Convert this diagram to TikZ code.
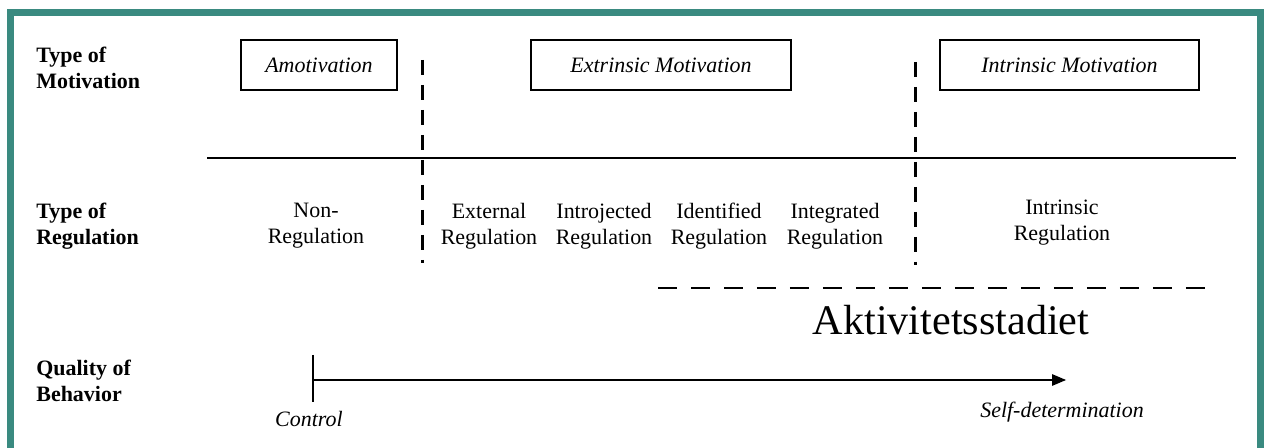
\documentclass[tikz,border=0pt]{standalone}
\usepackage{fontspec}
\setmainfont{Liberation Serif}
\usetikzlibrary{arrows,shapes,calc}

\definecolor{frameteal}{RGB}{58,138,128}

\tikzset{
  motbox/.style={rectangle, draw, line width=0.8pt, minimum height=1cm, font=\fontsize{12.5}{14.7}\selectfont\itshape},
  rowlab/.style={anchor=west, align=left, inner sep=0pt, font=\fontsize{12.5}{14.7}\selectfont\bfseries},
  reglab/.style={align=center, font=\fontsize{12.5}{14.7}\selectfont},
  endlab/.style={font=\fontsize{12.5}{14.7}\selectfont\itshape},
  divider/.style={line width=1.7pt, dash pattern=on 0.3cm off 0.2cm},
}

\begin{document}
\begin{tikzpicture}[x=0.02cm, y=-0.02cm]
		\useasboundingbox (0,0) rectangle (1266,448);
		\draw[frameteal, line width=0.14cm] (10.5,448) -- (10.5,12.5) -- (1260.5,12.5) -- (1260.5,448);

		\path (36, 68) node[rowlab] (typemot) {Type of\\Motivation}
		(36, 226) node[rowlab] (typereg) {Type of\\Regulation}
		(36, 381) node[rowlab] (quality) {Quality of\\Behavior}
		(319, 65) node[motbox, minimum width=3.12cm] (amot) {Amotivation}
		(661, 65) node[motbox, minimum width=5.2cm] (extr) {Extrinsic Motivation}
		(1069.5, 65) node[motbox, minimum width=5.18cm] (intr) {Intrinsic Motivation}
		(316, 226) node[reglab] (nonreg) {Non-\\Regulation}
		(489, 226) node[reglab] (external) {External\\Regulation}
		(604, 226) node[reglab] (introj) {Introjected\\Regulation}
		(719, 226) node[reglab] (ident) {Identified\\Regulation}
		(835, 226) node[reglab] (integ) {Integrated\\Regulation}
		(1062, 223) node[reglab] (intrreg) {Intrinsic\\Regulation}
		(951, 320) node[font=\fontsize{24}{28}\selectfont] (aktiv) {Aktivitetsstadiet}
		(309, 419) node[endlab] (control) {Control}
		(1062, 412) node[endlab] (selfdet) {Self-determination};

		\coordinate (lineL) at (207, 158);
		\coordinate (lineR) at (1236, 158);
		\coordinate (divAtop) at (422, 60);
		\coordinate (divAbot) at (422, 263);
		\coordinate (divBtop) at (915, 62);
		\coordinate (divBbot) at (915, 265);
		\coordinate (aktL) at (658, 288);
		\coordinate (aktR) at (1217, 288);
		\coordinate (tickT) at (313, 355);
		\coordinate (tickB) at (313, 402);
		\coordinate (arrS) at (313, 380);
		\coordinate (arrE) at (1066, 380);

		\draw[line width=1.4pt] (lineL) -- (lineR);
		\draw[divider] (divAtop) -- (divAbot);
		\draw[divider] (divBtop) -- (divBbot);
		\draw[line width=1.7pt, dash pattern=on 0.38cm off 0.28cm] (aktL) -- (aktR);
		\draw[line width=1.6pt] (tickT) -- (tickB);
		\draw[-triangle 45, line width=0.8pt] (arrS) -- (arrE);
	\end{tikzpicture}
\end{document}
